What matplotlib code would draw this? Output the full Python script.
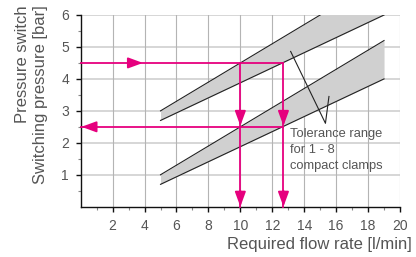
import matplotlib
matplotlib.use("Agg")
import matplotlib.pyplot as plt
import numpy as np

# ---- data ----
band_x = [5, 19]
lower_top = [1.0, 5.2]
lower_bot = [0.7, 4.0]
upper_top = [3.0, 7.2]
upper_bot = [2.7, 6.0]

flow_examples = [10.0, 12.7]       # l/min
pressure_examples = [2.5, 4.5]     # bar
arrow_right_x = 3.9                # tip of the right-pointing arrow on 4.5 bar line

leader_x = [13.15, 15.33, 15.55]
leader_y = [4.86, 2.61, 3.45]

x_ticks = [2, 4, 6, 8, 10, 12, 14, 16, 18, 20]
y_ticks = [1, 2, 3, 4, 5, 6]

note = "Tolerance range\nfor 1 - 8\ncompact clamps"
xlabel = "Required flow rate [l/min]"
ylabel = "Pressure switch\nSwitching pressure [bar]"

MAG = "#e6007e"
TXT = "#555555"
FONT = ["Liberation Sans", "DejaVu Sans"]

plt.rcParams['font.family'] = FONT

fig = plt.figure(figsize=(4.16, 2.57), dpi=100)
ax = fig.add_axes([80.7/416, 1-206.7/257, (400-80.7)/416, (206.7-15)/257])
ax.set_xlim(0, 20)
ax.set_ylim(0, 6)

# grid
for yv in y_ticks:
    ax.axhline(yv, color="#d6d6d6", lw=1.4, zorder=0)
for xv in x_ticks:
    ax.axvline(xv, color="#b4b4b4", lw=0.8, zorder=0)

# bands
bx = np.array(band_x, dtype=float)
for top, bot in [(lower_top, lower_bot), (upper_top, upper_bot)]:
    ax.fill_between(bx, bot, top, color="#d0d0d0", lw=0, zorder=1)
    ax.plot(bx, top, color="#222222", lw=0.8, zorder=2)
    ax.plot(bx, bot, color="#222222", lw=0.8, zorder=2)

# magenta construction lines
f1, f2 = flow_examples
p1, p2 = pressure_examples
lw = 1.3
ax.plot([0, f2], [p2, p2], color=MAG, lw=lw, zorder=3, clip_on=False)
ax.plot([0, f2], [p1, p1], color=MAG, lw=lw, zorder=3, clip_on=False)
for f in flow_examples:
    ax.plot([f, f], [0, p2], color=MAG, lw=lw, zorder=3, clip_on=False)

def head(tip, base):
    ax.annotate("", xy=tip, xytext=base,
                arrowprops=dict(arrowstyle="-|>,head_length=0.9,head_width=0.33",
                                color=MAG, lw=lw, shrinkA=0, shrinkB=0,
                                mutation_scale=10),
                zorder=4, annotation_clip=False)

head((arrow_right_x, p2), (arrow_right_x - 0.9, p2))
head((0.05, p1), (0.95, p1))
for f in flow_examples:
    head((f, p1 + 0.03), (f, p1 + 0.5))
    head((f, 0.0), (f, 0.5))

# leader lines
ax.plot(leader_x, leader_y, color="#222222", lw=0.8, zorder=3)
ax.text(13.1, 2.45, note, fontsize=9.3, color=TXT, va="top", ha="left",
        linespacing=1.4, zorder=5)

# spines and ticks
for s in ["top", "right"]:
    ax.spines[s].set_visible(False)
ax.spines["left"].set_color("#111111")
ax.spines["bottom"].set_color("#111111")
ax.spines["left"].set_linewidth(1.0)
ax.spines["bottom"].set_linewidth(1.0)

ax.set_xticks(x_ticks)
ax.set_yticks(y_ticks)
ax.set_xticks(np.arange(1, 20, 2), minor=True)
ax.set_yticks(np.arange(0.5, 6, 1), minor=True)
ax.tick_params(which="major", direction="out", length=3.5, width=1, color="#111111",
               labelsize=10, labelcolor=TXT, pad=5)
ax.tick_params(which="minor", direction="out", length=2, width=0.8, color="#888888")

fig.text(412/416, 1-244/257, xlabel, ha="right", va="center", fontsize=12, color=TXT)
fig.text(32/416, 1-5/257, ylabel, ha="center", va="top", rotation=90,
         multialignment="right", fontsize=12, color=TXT, linespacing=1.25)

fig.savefig("out.png", dpi=100)
